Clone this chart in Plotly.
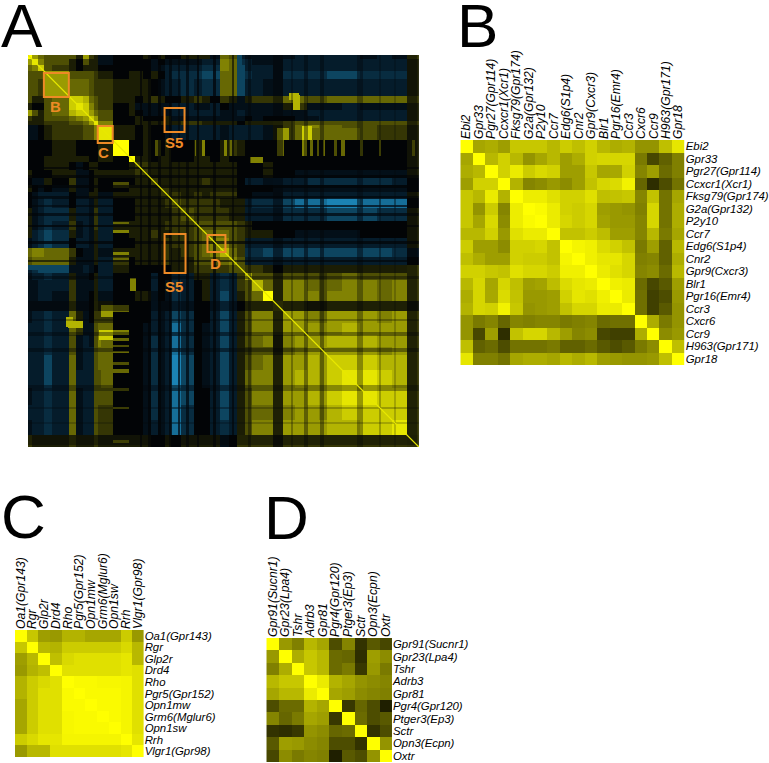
import numpy as np
import plotly.graph_objects as go

W, H = 769, 763

# Panel A: block edges along the gene ranking, and lower-triangle correlation levels (tenths)
A_EDGES = [0,4,10,16,24,41,48,55,61,66,70,85,101,107,115,123,130,137,143,153,166,175,183,193,202,210,218,225,236,246,256,268,280,292,300,315,333,350,365,380,392]
A_LEVELS = [
[10],
[6,9],
[4,5,8],
[3,3,3,6],
[3,3,2,6,6],
[3,1,1,3,4,8],
[1,0,0,3,4,8,9],
[6,3,1,3,4,7,8,8],
[2,1,1,3,3,4,5,6,8],
[1,1,1,2,2,3,3,4,6,9],
[-1,-1,0,1,2,2,2,3,3,5,9],
[0,0,0,0,1,1,0,0,0,0,1,10],
[0,0,0,1,1,1,1,1,0,0,1,0,10],
[0,0,0,1,1,0,-1,0,1,1,0,0,1,2],
[1,0,0,0,1,1,-1,-1,0,1,1,1,1,2,2],
[0,-1,-1,1,0,2,-1,-1,0,1,0,0,0,1,1,2],
[1,0,-1,0,-1,1,-1,-1,0,1,0,0,1,1,1,1,2],
[0,-1,-2,-2,-2,0,-1,-1,1,1,-1,1,1,1,1,1,2,2],
[0,-1,-2,-3,-2,0,-2,-2,-1,1,-2,0,0,1,1,1,1,2,3],
[1,-1,-2,-3,-3,1,-2,-2,-1,2,-2,0,0,1,1,1,1,1,2,3],
[1,-1,-2,-3,-2,2,-1,-2,-1,2,-2,1,1,1,1,1,1,2,2,2,3],
[1,-2,-3,-4,-3,1,-1,-2,-1,1,-2,0,1,1,1,2,1,1,2,2,3,4],
[-1,-2,-3,-4,-3,0,-2,-2,-1,1,-2,0,0,1,1,1,1,2,2,2,3,4,5],
[4,5,5,4,4,2,0,-1,-1,1,-1,1,1,1,1,1,1,2,1,2,3,4,5,7],
[3,4,4,4,4,1,-1,-1,-1,1,-2,2,0,1,1,1,1,2,1,1,3,3,3,4,5],
[-2,-3,-4,-4,-4,-1,-1,-2,-1,0,-2,1,0,0,0,0,0,0,1,1,2,2,2,2,3,3],
[-1,-2,-2,-3,-2,1,-1,-1,0,1,-2,0,0,0,0,-2,0,0,-2,-2,1,1,-2,-3,-2,2,6],
[-1,-1,-2,-2,-2,2,-1,-1,-1,1,-2,0,0,0,0,-2,0,-1,-3,-2,0,1,-2,-3,-2,2,3,7],
[-1,-1,-2,-2,-1,2,-1,-1,0,1,-1,0,0,1,1,-1,0,-1,-3,-2,0,1,-2,-4,-2,1,3,4,10],
[-1,-1,-1,-1,-1,2,-1,-1,0,2,1,0,0,0,0,-2,-1,-1,-3,-2,0,0,-2,-4,-2,0,2,2,2,5],
[-1,-2,-2,-3,-2,4,1,-1,0,2,2,0,0,0,0,-2,-1,-2,-4,-3,0,0,-2,-4,-2,1,3,5,5,2,6],
[-2,-2,-2,-3,-2,4,2,-1,-1,3,4,0,0,0,-1,-2,-1,-2,-5,-3,0,-1,-2,-4,-2,1,3,5,5,2,6,6],
[-2,-2,-2,-3,-2,3,-1,-2,-1,3,5,0,0,0,-1,-3,-1,-2,-5,-3,0,-1,-2,-4,-2,1,3,4,5,1,5,6,6],
[-2,-2,-2,-3,-2,3,-1,-2,-2,3,4,0,0,0,-1,-3,-1,-2,-5,-3,0,-1,-2,-4,-2,1,2,3,3,1,4,5,6,6],
[-2,-2,-2,-4,-2,4,-1,-2,-2,3,4,0,0,0,-1,-3,-1,-2,-6,-4,0,-1,-2,-4,-2,1,3,4,5,2,6,6,7,6,8],
[-2,-2,-2,-4,-2,4,-2,-2,-2,3,3,0,0,0,-1,-3,-1,-2,-6,-4,0,-1,-2,-4,-2,1,4,5,5,2,6,7,7,6,8,9],
[-1,-2,-2,-3,-2,4,-1,-2,-2,3,3,0,0,0,-1,-3,-1,-2,-5,-4,0,0,-2,-4,-2,1,3,5,5,2,6,6,7,6,8,9,9],
[-2,-2,-2,-3,-2,4,-1,-2,-2,3,2,0,0,0,-1,-3,-1,-2,-5,-3,0,0,-2,-4,-2,1,3,4,4,2,5,6,6,5,7,8,8,8],
[-1,-2,-2,-3,-2,4,-1,-2,-2,3,2,0,0,0,-1,-2,-1,-2,-5,-3,0,0,-2,-3,-2,1,3,5,5,2,6,6,6,6,7,7,8,8,9],
[2,1,1,1,1,2,1,1,1,2,1,1,1,1,1,0,0,1,0,1,1,1,1,-1,0,2,2,2,2,1,2,2,2,2,2,2,2,2,2,3],
]
# Dark gene bands seen across the picture: start rank, end rank, relative level
A_BANDS = [(112,114,.3),(120,123,.3),(130,133,.3),(141,144,.4),(150,152,.5),(158,161,.4),(170,172,.3),(186,189,.3),(205,207,.4),
           (221,224,.6),(246,256,.55),(264,266,.7),(277,281,.6),(293,297,.6),(330,336,.65),(352,354,.75),(367,369,.8),(380,390,.6)]
# Local features: row start, row end, column start, column end, level
A_PATCHES = [(127,133,85,101,3),(167,169,85,101,4),(175,178,85,101,5),(197,200,85,101,5),(203,205,85,101,4),
             (250,257,85,101,4),(275,280,85,101,5),(283,286,85,101,4),(290,292,85,101,3),(296,298,85,101,4),
             (307,310,85,101,3),(314,318,85,101,4),(333,336,85,101,3),(352,354,85,101,3),(385,388,85,101,4),
             (40,55,266,273,7),(73,85,250,262,6),(73,85,276,285,7),(73,85,285,333,4),(102,108,223,236,5),
             (262,272,38,45,7),(275,285,71,85,8),(210,215,0,38,-4)]
A_DIAGONAL = [0, 392]

B_GENES = ["Ebi2","Gpr33","Pgr27(Gpr114)","Ccxcr1(Xcr1)","Fksg79(Gpr174)","G2a(Gpr132)","P2y10","Ccr7","Edg6(S1p4)","Cnr2","Gpr9(Cxcr3)","Blr1","Pgr16(Emr4)","Ccr3","Cxcr6","Ccr9","H963(Gpr171)","Gpr18"]
B_LEVELS = [
[100],
[65,100],
[68,72,100],
[62,82,82,100],
[78,72,92,70,100],
[78,58,80,52,93,100],
[78,65,85,55,93,98,100],
[72,72,82,60,88,92,92,100],
[80,62,62,55,82,82,84,76,100],
[75,68,62,62,82,80,80,76,96,100],
[82,82,78,76,88,84,84,80,94,94,100],
[72,84,65,84,75,62,64,74,86,90,92,100],
[68,84,66,86,76,60,60,62,82,90,88,94,100],
[70,84,82,95,78,58,60,62,76,84,84,92,92,100],
[58,48,52,40,52,50,52,52,48,50,52,42,44,44,100],
[58,28,62,18,76,84,84,72,62,52,55,28,25,25,68,100],
[75,38,42,30,45,45,45,48,38,38,42,35,30,35,48,55,100],
[90,50,50,45,65,68,68,65,72,68,72,62,60,58,58,60,75,100],
]

C_GENES = ["Oa1(Gpr143)","Rgr","Glp2r","Drd4","Rho","Pgr5(Gpr152)","Opn1mw","Grm6(Mglur6)","Opn1sw","Rrh","Vlgr1(Gpr98)"]
C_LEVELS = [
[100],
[78,100],
[62,72,100],
[60,70,75,100],
[70,80,85,88,100],
[70,80,88,88,98,100],
[65,80,88,88,98,98,100],
[65,80,88,88,97,98,98,100],
[65,80,88,88,97,98,98,98,100],
[80,85,90,90,96,96,96,96,96,100],
[60,72,72,88,88,88,88,88,88,90,100],
]

D_GENES = ["Gpr91(Sucnr1)","Gpr23(Lpa4)","Tshr","Adrb3","Gpr81","Pgr4(Gpr120)","Ptger3(Ep3)","Sctr","Opn3(Ecpn)","Oxtr"]
D_LEVELS = [
[100],
[60,100],
[50,68,100],
[72,78,78,100],
[65,72,72,92,100],
[30,42,42,70,65,100],
[52,40,48,65,62,22,100],
[20,18,22,58,55,40,42,100],
[35,62,60,55,52,30,30,20,100],
[28,55,48,52,50,12,35,30,58,100],
]

def square(rows):
    n = len(rows)
    m = np.zeros((n, n))
    for i, r in enumerate(rows):
        for j, v in enumerate(r):
            m[i, j] = v
            m[j, i] = v
    return m

def build_a():
    sizes = np.diff(A_EDGES)
    m = np.repeat(np.repeat(square(A_LEVELS), sizes, axis=0), sizes, axis=1)
    for r0, r1, c0, c1, v in A_PATCHES:
        m[r0:r1, c0:c1] = v
        m[c0:c1, r0:r1] = v
    for a, b, f in A_BANDS:
        m[a:b, :] *= f
        m[:, a:b] *= f
    return m

def dom_x(a, b): return [a / W, b / W]
def dom_y(a, b): return [1 - b / H, 1 - a / H]

fig = go.Figure()
AX = (27, 419, 55, 447)
COL_LABEL_SIZE = 12.2
ROW_LABEL_SIZE = 11.4
ORANGE = "#ee8a26"
ranks = np.arange(392) + 0.5

A_SCALE = [(-6,"#1b83b4"),(-5,"#166e98"),(-4,"#0d4560"),(-3,"#082c40"),(-2,"#051c2b"),(-1,"#030f18"),(0,"#020406"),(10,"#ffff00")]
fig.add_trace(go.Heatmap(z=build_a(), x=ranks, y=ranks, zmin=-6, zmax=10,
    colorscale=[[(v + 6) / 16, c] for v, c in A_SCALE], showscale=False,
    xaxis="x", yaxis="y", hoverinfo="skip"))
fig.add_trace(go.Scatter(x=A_DIAGONAL, y=A_DIAGONAL, mode="lines", line=dict(color="#e8e800", width=1.2),
    xaxis="x", yaxis="y", showlegend=False, hoverinfo="skip"))

layout = dict(
    width=W, height=H, margin=dict(l=0, r=0, t=0, b=0), paper_bgcolor="white", plot_bgcolor="white",
    showlegend=False, font=dict(family="Liberation Sans", color="black"),
    xaxis=dict(domain=dom_x(AX[0], AX[1]), range=[0, 392], visible=False, anchor="y"),
    yaxis=dict(domain=dom_y(AX[2], AX[3]), range=[392, 0], visible=False, anchor="x"),
)

panels = [
    (B_GENES, B_LEVELS, (460.5, 685.5, 140, 365), "2"),
    (C_GENES, C_LEVELS, (14, 143, 630, 757), "3"),
    (D_GENES, D_LEVELS, (266, 392, 638, 762), "4"),
]
for genes, levels, box, k in panels:
    fig.add_trace(go.Heatmap(z=square(levels), x=genes, y=genes, zmin=0, zmax=100,
        colorscale=[[0, "#000000"], [1, "#ffff00"]], showscale=False,
        xaxis="x" + k, yaxis="y" + k, hoverinfo="skip"))
    ital = ["<i>%s</i>" % g for g in genes]
    layout["xaxis" + k] = dict(domain=dom_x(box[0], box[1]), side="top", anchor="y" + k, tickangle=-90,
        tickmode="array", tickvals=genes, ticktext=ital, tickfont=dict(size=COL_LABEL_SIZE), ticks="", showgrid=False, zeroline=False, showline=False, ticklen=0)
    layout["yaxis" + k] = dict(domain=dom_y(box[2], box[3]), side="right", anchor="x" + k, autorange="reversed",
        tickmode="array", tickvals=genes, ticktext=ital, tickfont=dict(size=ROW_LABEL_SIZE), ticks="", showgrid=False, zeroline=False, showline=False)

boxes = [(16, 41, 18, 42), (70, 85, 71, 88), (137, 157, 53, 77), (137, 158, 179, 218), (180, 198, 180, 197)]
layout["shapes"] = [dict(type="rect", xref="x", yref="y", x0=a, x1=b, y0=c, y1=d,
    line=dict(color=ORANGE, width=2), fillcolor="rgba(0,0,0,0)") for a, b, c, d in boxes]

notes = [("B", 28, 52), ("C", 76, 97), ("S5", 146, 87), ("S5", 146, 231), ("D", 188, 208)]
anns = [dict(text="<b>%s</b>" % t, x=x, y=y, xref="x", yref="y", showarrow=False,
    font=dict(size=15, color=ORANGE, family="Liberation Sans"), xanchor="center", yanchor="middle") for t, x, y in notes]
for t, x, y in [("A", -2, 25), ("B", 455, 25), ("C", -2, 516), ("D", 262, 517)]:
    anns.append(dict(text=t, x=x / W, y=1 - y / H, xref="paper", yref="paper", showarrow=False,
        font=dict(size=62, color="black", family="Liberation Sans"), xanchor="left", yanchor="middle"))
layout["annotations"] = anns

fig.update_layout(**layout)
fig.write_html("out.html", config=dict(displayModeBar=False), post_script="document.body.style.margin='0';")
